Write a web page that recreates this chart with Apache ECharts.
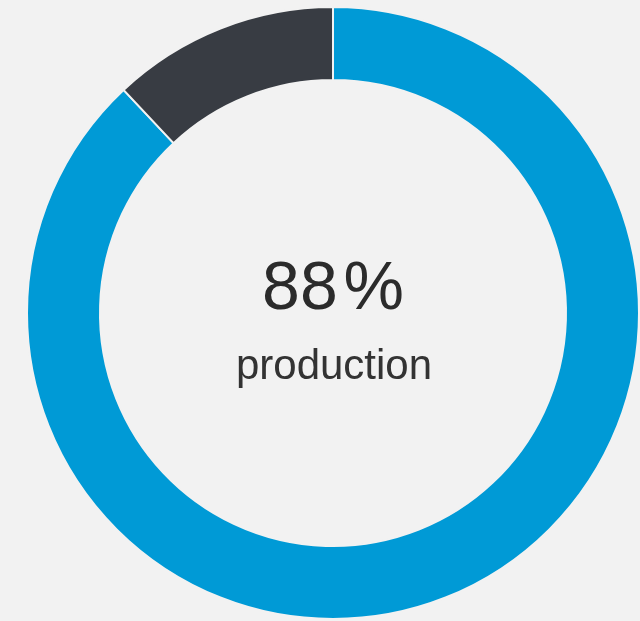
<!DOCTYPE html>
<html>
<head>
<meta charset="utf-8">
<script src="https://cdn.jsdelivr.net/npm/echarts@6/dist/echarts.min.js"></script>
<style>
html,body{margin:0;padding:0;background:#f2f2f2;}
#chart{width:640px;height:621px;}
</style>
</head>
<body>
<div id="chart"></div>
<script>
var categories = ['production', 'other'];
var values = [88, 12];
var colors = ['#009ad6', '#383c43'];
var centerLabel = '88\u200a%';
var centerSub = 'production';

var chart = echarts.init(document.getElementById('chart'));
chart.setOption({
  backgroundColor: '#f2f2f2',
  animation: false,
  series: [{
    type: 'pie',
    center: [333, 313],
    radius: [233, 306],
    startAngle: 90,
    clockwise: true,
    label: { show: false },
    labelLine: { show: false },
    itemStyle: { borderColor: '#f2f2f2', borderWidth: 2 },
    data: categories.map(function (c, i) {
      return { name: c, value: values[i], itemStyle: { color: colors[i] } };
    })
  }],
  graphic: [
    { type: 'text', x: 333, y: 256,
      style: { text: centerLabel, font: '68px "Liberation Sans", Arial, sans-serif', fill: '#2b2b2b', textAlign: 'center', textVerticalAlign: 'top' } },
    { type: 'text', x: 334, y: 346,
      style: { text: centerSub, font: '42px "Liberation Sans", Arial, sans-serif', fill: '#333333', textAlign: 'center', textVerticalAlign: 'top' } }
  ]
});
</script>
</body>
</html>
